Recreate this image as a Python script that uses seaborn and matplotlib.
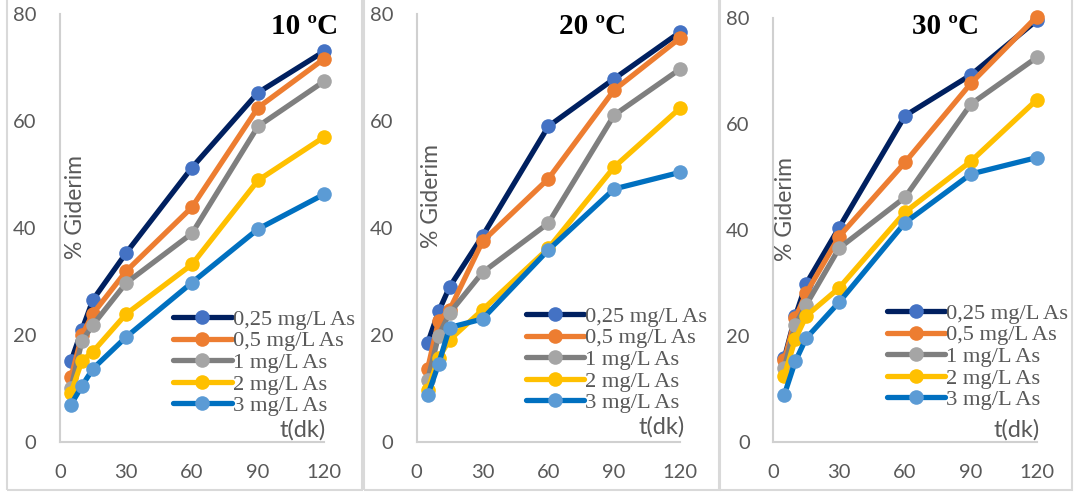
import matplotlib
matplotlib.use("Agg")
import matplotlib.pyplot as plt
import seaborn as sns
import pandas as pd
from matplotlib.patches import Rectangle

# ---- data ----
t_values = [5, 10, 15, 30, 60, 90, 120]
series_names = ["0,25 mg/L As", "0,5 mg/L As", "1 mg/L As", "2 mg/L As", "3 mg/L As"]
panel_titles = ["10 ºC", "20 ºC", "30 ºC"]

p10_025 = [15.1, 21.0, 26.6, 35.3, 51.3, 65.3, 73.0]
p10_05 = [12.1, 20.0, 24.0, 31.9, 43.9, 62.5, 71.6]
p10_1 = [10.1, 18.9, 21.9, 29.7, 39.0, 59.0, 67.4]
p10_2 = [9.2, 15.2, 16.9, 23.9, 33.2, 48.9, 57.0]
p10_3 = [7.0, 10.5, 13.7, 19.6, 29.8, 39.8, 46.3]

p20_025 = [18.5, 24.4, 29.0, 38.5, 59.0, 67.9, 76.6]
p20_05 = [13.7, 22.7, 24.7, 37.5, 49.2, 65.8, 75.5]
p20_1 = [11.6, 19.9, 24.1, 31.7, 40.9, 61.1, 69.7]
p20_2 = [9.8, 15.7, 19.1, 24.7, 36.2, 51.4, 62.4]
p20_3 = [8.7, 14.6, 21.4, 23.0, 35.9, 47.3, 50.4]

p30_025 = [15.8, 23.7, 29.9, 40.5, 61.6, 69.3, 79.6]
p30_05 = [15.4, 23.4, 28.1, 38.8, 52.8, 67.7, 80.3]
p30_1 = [14.0, 22.1, 25.9, 36.6, 46.2, 63.8, 72.6]
p30_2 = [12.5, 19.4, 23.8, 29.1, 43.4, 53.0, 64.6]
p30_3 = [8.9, 15.2, 19.6, 26.4, 41.4, 50.6, 53.7]

panels = [
    [p10_025, p10_05, p10_1, p10_2, p10_3],
    [p20_025, p20_05, p20_1, p20_2, p20_3],
    [p30_025, p30_05, p30_1, p30_2, p30_3],
]
x_ticks = [0, 30, 60, 90, 120]
y_ticks = [0, 20, 40, 60, 80]

# ---- styles ----
line_colors = ["#002060", "#ED7D31", "#7F7F7F", "#FFC000", "#0070C0"]
marker_colors = ["#4472C4", "#ED7D31", "#A5A5A5", "#FFC000", "#5B9BD5"]

sns.set_theme(style="white")
plt.rcParams["font.family"] = ["Lato", "DejaVu Sans"]

W, H = 1081, 495
fig = plt.figure(figsize=(W / 100, H / 100), dpi=100)

def fx(px):
    return px / W

def fy(py):
    return 1 - py / H

# axes boxes in pixels: (left, right, top, bottom)
axes_px = [(60, 324, 14, 442), (416.7, 680, 14, 442), (773.3, 1036.7, 18.3, 442)]
border_px = [(7, 362), (363.5, 719), (720, 1072)]
title_px = [(305, 27), (593, 27), (946, 27)]
ylab_px = [(75, 207), (431.7, 196), (785.7, 209)]
xlab_px = [(302.7, 430), (661.7, 427), (1016.7, 430)]
legend_px = [(173, 309), (525.7, 306), (886.7, 303)]

grey_txt = "#595959"
for i, (l, r, t, b) in enumerate(axes_px):
    # panel border
    bl, br = border_px[i]
    fig.patches.append(Rectangle((fx(bl), fy(490)), fx(br) - fx(bl), 1.01 - fy(490),
                                 transform=fig.transFigure, fill=False,
                                 edgecolor="#D9D9D9", linewidth=1.5, zorder=0))
    ax = fig.add_axes([fx(l), fy(b), fx(r) - fx(l), fy(t) - fy(b)])
    ax.patch.set_alpha(0)
    for j, vals in enumerate(panels[i]):
        df = pd.DataFrame({"t": t_values, "v": vals})
        sns.lineplot(data=df, x="t", y="v", ax=ax, color=line_colors[j],
                     linewidth=3.8, marker="o", markersize=10.5,
                     markerfacecolor=marker_colors[j], markeredgewidth=0,
                     label=series_names[j], clip_on=False)
        ln = ax.lines[-1]
        ln.set_markerfacecolor(marker_colors[j])
        ln.set_markeredgewidth(0)
    ax.set_xlim(0, 120)
    ax.set_ylim(0, 80)
    ax.set_xticks(x_ticks)
    ax.set_yticks(y_ticks)
    ax.tick_params(axis="both", length=0, labelsize=14.5, colors=grey_txt)
    ax.tick_params(axis="y", pad=17)
    ax.tick_params(axis="x", pad=16)
    for s in ["top", "right"]:
        ax.spines[s].set_visible(False)
    for s in ["left", "bottom"]:
        ax.spines[s].set_color("#D0D0D0")
        ax.spines[s].set_linewidth(1.5)
    ax.set_xlabel("")
    ax.set_ylabel("")
    lx, ly = legend_px[i]
    leg = ax.legend(loc="upper left",
                    bbox_to_anchor=((lx - l) / (r - l), (b - ly) / (b - t)),
                    frameon=False, borderaxespad=0, borderpad=0,
                    handlelength=2.6, handletextpad=0.05, labelspacing=0.04,
                    prop={"family": "Liberation Serif", "size": 16.2})
    for txt in leg.get_texts():
        txt.set_color(grey_txt)
    fig.text(fx(title_px[i][0]), fy(title_px[i][1]), panel_titles[i],
             family="Liberation Serif", weight="bold", size=21,
             ha="center", va="center", color="black")
    fig.text(fx(ylab_px[i][0]), fy(ylab_px[i][1]), "% Giderim", rotation=90,
             size=16.5, ha="center", va="center", color=grey_txt)
    fig.text(fx(xlab_px[i][0]), fy(xlab_px[i][1]), "t(dk)",
             size=17, ha="center", va="center", color=grey_txt)

fig.savefig("out.png", dpi=100)
